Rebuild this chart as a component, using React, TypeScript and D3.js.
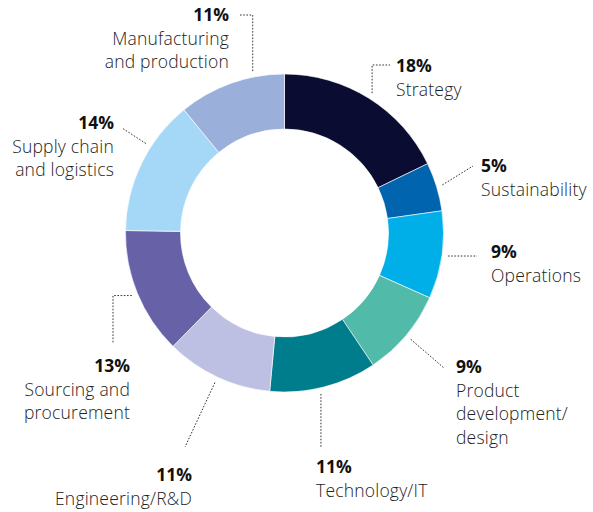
import React, { useEffect, useRef } from "react"
import * as d3 from "d3"

// data
const categories = [
  "Strategy",
  "Sustainability",
  "Operations",
  "Product development/ design",
  "Technology/IT",
  "Engineering/R&D",
  "Sourcing and procurement",
  "Supply chain and logistics",
  "Manufacturing and production",
]
const values = [18, 5, 9, 9, 11, 11, 13, 14, 11]
const labelLines = [
  ["Strategy"],
  ["Sustainability"],
  ["Operations"],
  ["Product", "development/", "design"],
  ["Technology/IT"],
  ["Engineering/R&D"],
  ["Sourcing and", "procurement"],
  ["Supply chain", "and logistics"],
  ["Manufacturing", "and production"],
]
const colors = [
  "#0a0c32",
  "#0065ae",
  "#00aee8",
  "#52baa8",
  "#007d8c",
  "#bdc0e2",
  "#6761a8",
  "#a4d8f6",
  "#9aafd9",
]

// label layout: text anchor point, alignment, extra leader points, angle nudge
type Layout = { x: number; y: number; anchor: string; nudge: number; path: (s: [number, number]) => [number, number][] }
const layout: Layout[] = [
  { x: 396, y: 72, anchor: "start", nudge: 0, path: s => [s, [s[0], 65], [390, 65]] },
  { x: 481, y: 172, anchor: "start", nudge: 0, path: s => [s, [473, 166]] },
  { x: 491, y: 258, anchor: "start", nudge: 0, path: s => [s, [477, s[1]]] },
  { x: 456, y: 373, anchor: "start", nudge: 0, path: s => [s, [444, 368]] },
  { x: 316, y: 473, anchor: "start", nudge: 1.5, path: s => [s, [s[0], 447]] },
  { x: 192, y: 481, anchor: "end", nudge: 0, path: s => [s, [185, 447]] },
  { x: 130, y: 372, anchor: "end", nudge: 0, path: s => [s, [113, s[1]], [113, 343]] },
  { x: 114, y: 129, anchor: "end", nudge: 7, path: s => [s, [122, 128]] },
  { x: 229, y: 21, anchor: "end", nudge: 8.5, path: s => [s, [s[0], 15], [240, 15]] },
]

const cx = 284.5
const cy = 233
const outerR = 159
const innerR = 104
const leaderR = 165

export default function App() {
  const ref = useRef<SVGSVGElement>(null)

  useEffect(() => {
    const svg = d3.select(ref.current)
    svg.selectAll("*").remove()

    const pie = d3.pie<number>().sort(null).value(d => d)
    const arcs = pie(values)
    const arc = d3.arc<d3.PieArcDatum<number>>().innerRadius(innerR).outerRadius(outerR)

    const g = svg.append("g").attr("transform", `translate(${cx},${cy})`)
    g.selectAll("path")
      .data(arcs)
      .enter()
      .append("path")
      .attr("d", arc)
      .attr("fill", (d, i) => colors[i])
      .attr("stroke", "#ffffff")
      .attr("stroke-width", 0.6)

    const line = d3.line()
    arcs.forEach((a, i) => {
      const lay = layout[i]
      const mid = (a.startAngle + a.endAngle) / 2 + (lay.nudge * Math.PI) / 180
      const start: [number, number] = [cx + leaderR * Math.sin(mid), cy - leaderR * Math.cos(mid)]
      svg.append("path")
        .attr("d", line(lay.path(start)))
        .attr("fill", "none")
        .attr("stroke", "#333")
        .attr("stroke-width", 1)
        .attr("stroke-dasharray", "1.6,1.6")

      const t = svg.append("text")
        .attr("x", lay.x)
        .attr("y", lay.y)
        .attr("text-anchor", lay.anchor)
        .attr("font-family", "'Open Sans', sans-serif")
        .attr("font-size", 17.5)
      t.append("tspan")
        .attr("x", lay.x)
        .attr("font-weight", 700)
        .attr("fill", "#111")
        .text(values[i] + "%")
      labelLines[i].forEach(l => {
        t.append("tspan")
          .attr("x", lay.x)
          .attr("dy", 23.5)
          .attr("font-weight", 300)
          .attr("fill", "#222")
          .attr("letter-spacing", 0.2)
          .text(l)
      })
    })
  }, [])

  return (
    <svg
      ref={ref}
      width={593}
      height={512}
      style={{ position: "absolute", left: 0, top: 0, background: "#fff" }}
    >
      <title>{categories.join(", ")}</title>
    </svg>
  )
}
